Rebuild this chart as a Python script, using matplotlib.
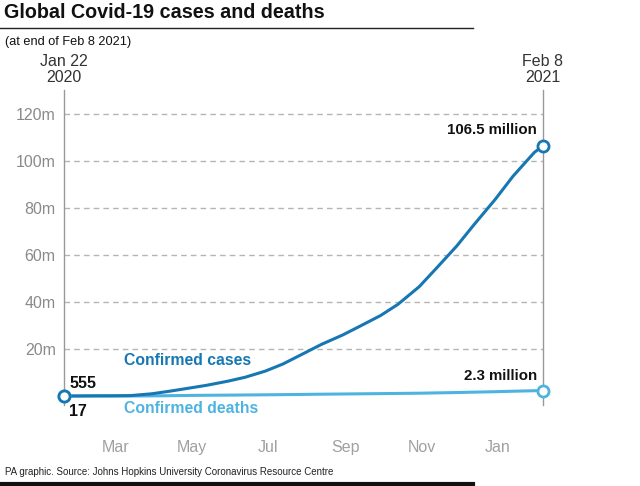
import numpy as np
import pandas as pd
import matplotlib.pyplot as plt
import matplotlib.transforms as mtransforms

plt.rcParams['font.family'] = ['Liberation Sans', 'DejaVu Sans']

# data (millions)
dates = pd.to_datetime([
    "2020-01-22", "2020-02-01", "2020-02-15", "2020-03-01", "2020-03-15",
    "2020-04-01", "2020-04-15", "2020-05-01", "2020-05-15", "2020-06-01",
    "2020-06-15", "2020-07-01", "2020-07-15", "2020-08-01", "2020-08-15",
    "2020-09-01", "2020-09-15", "2020-10-01", "2020-10-15", "2020-11-01",
    "2020-11-15", "2020-12-01", "2020-12-15", "2021-01-01", "2021-01-15",
    "2021-02-01", "2021-02-08",
])
cases = [0.000555, 0.012, 0.069, 0.088, 0.167, 0.93, 2.0, 3.35, 4.55, 6.3,
         8.0, 10.6, 13.6, 18.2, 22.0, 26.0, 29.8, 34.2, 39.0, 46.5,
         54.5, 63.8, 73.0, 83.8, 93.5, 103.6, 106.5]
deaths = [0.000017, 0.0003, 0.0017, 0.003, 0.0065, 0.047, 0.13, 0.24, 0.31, 0.37,
          0.44, 0.51, 0.58, 0.68, 0.77, 0.85, 0.93, 1.01, 1.09, 1.19,
          1.32, 1.47, 1.64, 1.83, 2.03, 2.24, 2.31]

y_ticks = [20, 40, 60, 80, 100, 120]
y_labels = ["20m", "40m", "60m", "80m", "100m", "120m"]
month_ticks = pd.to_datetime(["2020-03-01", "2020-05-01", "2020-07-01",
                              "2020-09-01", "2020-11-01", "2021-01-01"])
month_labels = ["Mar", "May", "Jul", "Sep", "Nov", "Jan"]

cases_color = "#1677b3"
deaths_color = "#4fb3e0"
grey = "#8a8a8a"

fig = plt.figure(figsize=(6.4, 4.86), dpi=100)
ax = fig.add_axes([64 / 640, 1 - 405 / 486, (543 - 64) / 640, (405 - 90) / 486])

ax.plot(dates, deaths, color=deaths_color, lw=2.2, zorder=3)
ax.plot(dates, cases, color=cases_color, lw=2.2, zorder=4)
for series, col in [(deaths, deaths_color), (cases, cases_color)]:
    ax.plot([dates[0], dates[-1]], [series[0], series[-1]], 'o', ms=8,
            mfc='white', mec=col, mew=2, zorder=5, clip_on=False)

ax.set_xlim(dates[0], dates[-1])
ax.set_ylim(-3.83, 130.2)

ax.set_yticks(y_ticks)
ax.set_yticklabels(y_labels, color=grey, fontsize=11.5)
ax.tick_params(axis='y', length=0, pad=6)
ax.set_xticks([])
ax.yaxis.grid(True, linestyle=(0, (4, 3)), color='#b5b5b5', lw=1)
ax.set_axisbelow(True)

for side in ['top', 'bottom']:
    ax.spines[side].set_visible(False)
for side in ['left', 'right']:
    ax.spines[side].set_color('#999999')
    ax.spines[side].set_linewidth(1)

# month labels under the plot
trans = mtransforms.blended_transform_factory(ax.transData, ax.transAxes)
for d, lab in zip(month_ticks, month_labels):
    ax.text(d + pd.Timedelta(days=2), -0.135, lab, transform=trans, ha='center',
            va='center', color='#a0a0a0', fontsize=11.5)

# end-point labels
ax.text(dates[0], 1.065, "Jan 22\n2020", transform=trans, ha='center', va='center',
        fontsize=11.5, color='#333333', linespacing=1.05)
ax.text(dates[-1], 1.065, "Feb 8\n2021", transform=trans, ha='center', va='center',
        fontsize=11.5, color='#333333', linespacing=1.05)

ax.text(dates[0] + pd.Timedelta(days=4), 5.3, "555", fontsize=11.5, fontweight='bold',
        ha='left', va='center', color='#111111')
ax.text(dates[0] + pd.Timedelta(days=4), -6.8, "17", fontsize=11.5, fontweight='bold',
        ha='left', va='center', color='#111111', clip_on=False)
ax.text(dates[-1] - pd.Timedelta(days=5), 113.2, "106.5 million", fontsize=10.8,
        fontweight='bold', ha='right', va='center', color='#111111')
ax.text(dates[-1] - pd.Timedelta(days=5), 8.5, "2.3 million", fontsize=10.8,
        fontweight='bold', ha='right', va='center', color='#111111')

ax.text(pd.Timestamp("2020-03-10"), 15.3, "Confirmed cases", fontsize=11.3,
        fontweight='bold', ha='left', va='center', color=cases_color)
ax.text(pd.Timestamp("2020-03-10"), -5.2, "Confirmed deaths", fontsize=11.3,
        fontweight='bold', ha='left', va='center', color=deaths_color)

# title block
fig.text(4 / 640, 1 - 13 / 486, "Global Covid-19 cases and deaths", fontsize=14.2,
         fontweight='bold', ha='left', va='center', color='#111111')
fig.add_artist(plt.Line2D([0, 473 / 640], [1 - 28 / 486, 1 - 28 / 486], color='#222222', lw=1))
fig.text(5 / 640, 1 - 42 / 486, "(at end of Feb 8 2021)", fontsize=9.2,
         ha='left', va='center', color='#111111')

fig.text(5 / 640, 1 - 472 / 486, "PA graphic. Source: Johns Hopkins University Coronavirus Resource Centre",
         fontsize=7.0, ha='left', va='center', color='#222222')
fig.add_artist(plt.Line2D([0, 473 / 640], [1 - 484 / 486, 1 - 484 / 486], color='#111111', lw=3))

fig.savefig("out.png", dpi=100)
